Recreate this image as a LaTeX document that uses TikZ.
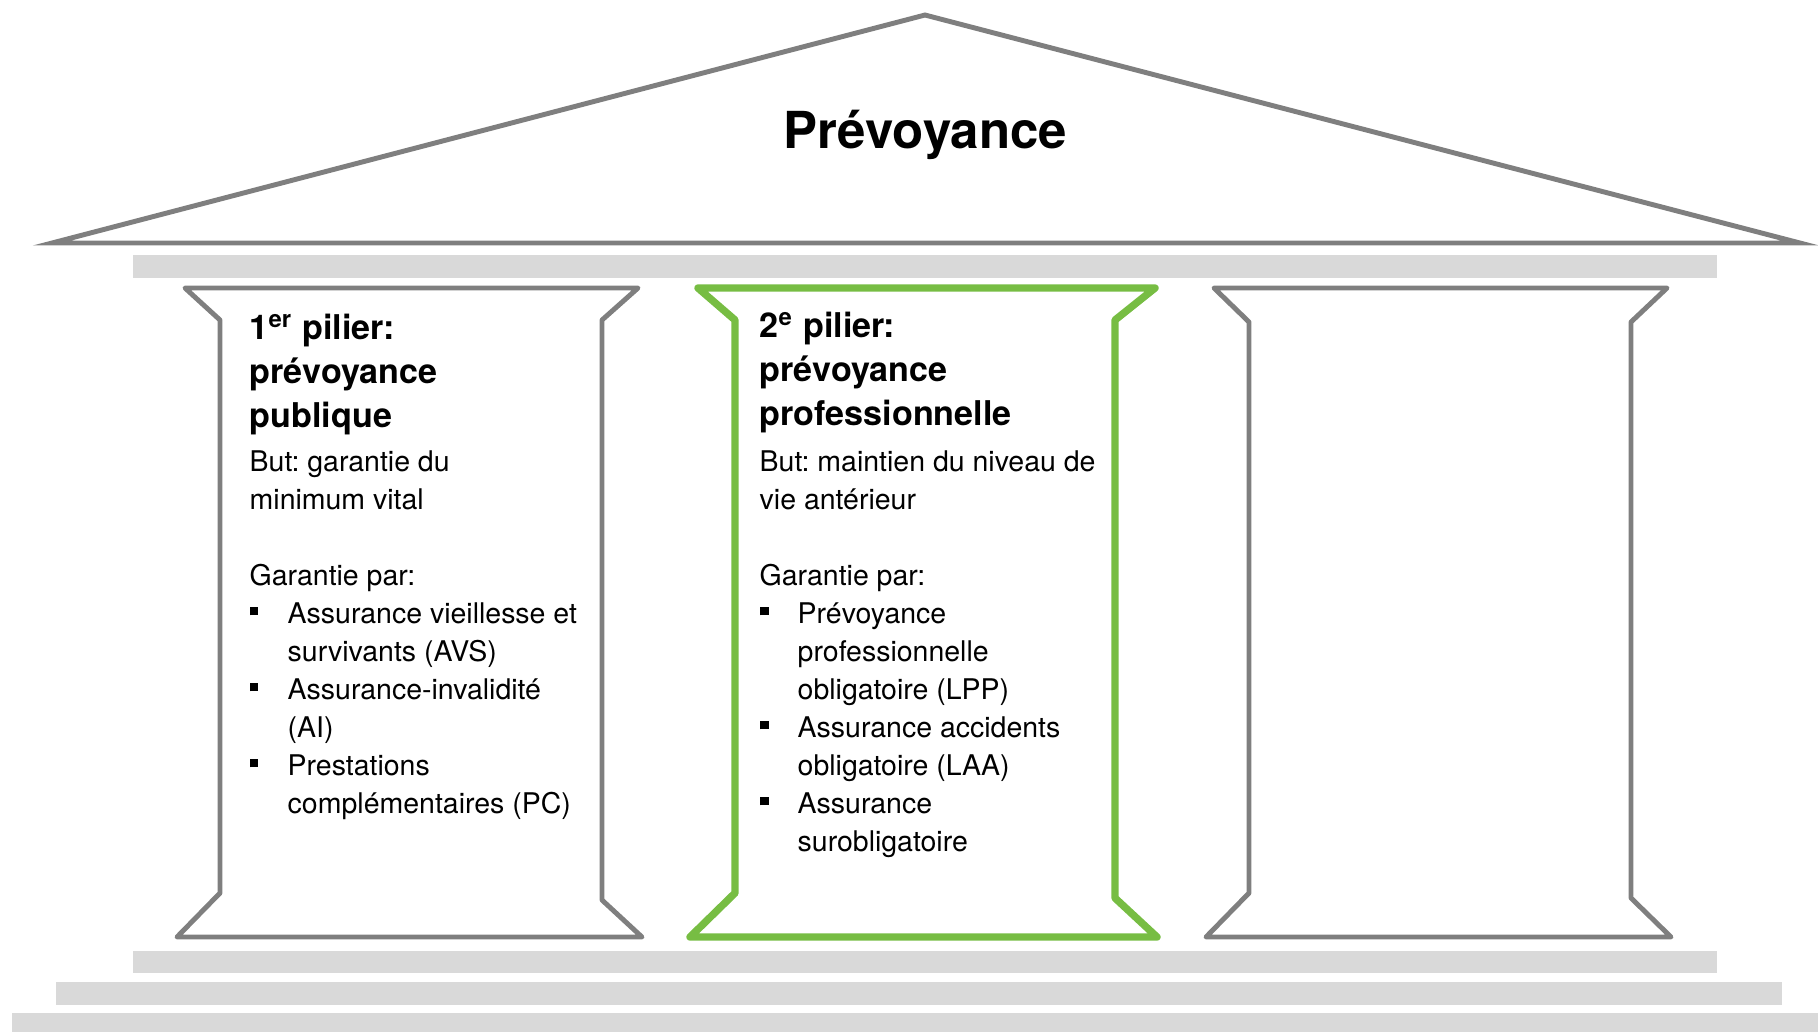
\documentclass[tikz,border=0pt]{standalone}
\usepackage{fontspec}
\setmainfont{TeX Gyre Heros}
\frenchspacing
\definecolor{pilgris}{HTML}{7F7F7F}
\definecolor{pilvert}{HTML}{77BD43}
\definecolor{barre}{HTML}{D9D9D9}
\newcommand\puce{\makebox[0.38cm][l]{\raisebox{2.2pt}{\rule{2.5pt}{2.5pt}}}}
\newcommand\suite{\hspace*{0.38cm}}
\begin{document}
\begin{tikzpicture}[x=0.01cm,y=-0.01cm,
	pilier/.style={draw=pilgris,line width=1.4pt,line join=round},
	pilierdeux/.style={draw=pilvert,line width=2.1pt,line join=round},
	titre/.style={font=\fontsize{9.7pt}{12.4pt}\selectfont\bfseries,align=left,anchor=base west,inner sep=0pt},
	texte/.style={font=\fontsize{8.1pt}{10.8pt}\selectfont,align=left,anchor=base west,inner sep=0pt}]
	\useasboundingbox (0,0) rectangle (1818,1032);
	% toit
	\draw[pilgris,line width=1.4pt] (52,243)--(925,15)--(1800,243)--cycle;
	\node[font=\fontsize{14.5pt}{17pt}\selectfont\bfseries,anchor=base] (toit) at (925,148) {Prévoyance};
	\fill[barre] (133,255) rectangle (1717,278);
	% piliers
	\draw[pilier] (185,288)--(638,288)--(602,320)--(602,900)--(642,937)--(177,937)--(220,893)--(220,320)--cycle;
	\draw[pilierdeux] (698,288)--(1155,288)--(1115,320)--(1115,898)--(1157,937)--(690,937)--(735,893)--(735,320)--cycle;
	\draw[pilier] (1214,288)--(1667,288)--(1631,322)--(1631,898)--(1671,937)--(1206,937)--(1249,893)--(1249,322)--cycle;
	% marches
	\fill[barre] (133,951) rectangle (1717,973);
	\fill[barre] (56,982) rectangle (1782,1005);
	\fill[barre] (12,1013) rectangle (1818,1032);
	% textes (ancre sur la derniere ligne)
	\node[titre] (titreun) at (249,427) {1\textsuperscript{er} pilier:\\prévoyance\\publique};
	\node[texte] (texteun) at (249,813) {But: garantie du\\minimum vital\\[10.8pt]
		Garantie par:\\
		\puce Assurance vieillesse et\\\suite survivants (AVS)\\
		\puce Assurance-invalidité\\\suite (AI)\\
		\puce Prestations\\\suite complémentaires (PC)};
	\node[titre] (titredeux) at (759,425) {2\textsuperscript{e} pilier:\\prévoyance\\professionnelle};
	\node[texte] (textedeux) at (759,851) {But: maintien du niveau de\\vie antérieur\\[10.8pt]
		Garantie par:\\
		\puce Prévoyance\\\suite professionnelle\\\suite obligatoire (LPP)\\
		\puce Assurance accidents\\\suite obligatoire (LAA)\\
		\puce Assurance\\\suite surobligatoire};
\end{tikzpicture}
\end{document}
